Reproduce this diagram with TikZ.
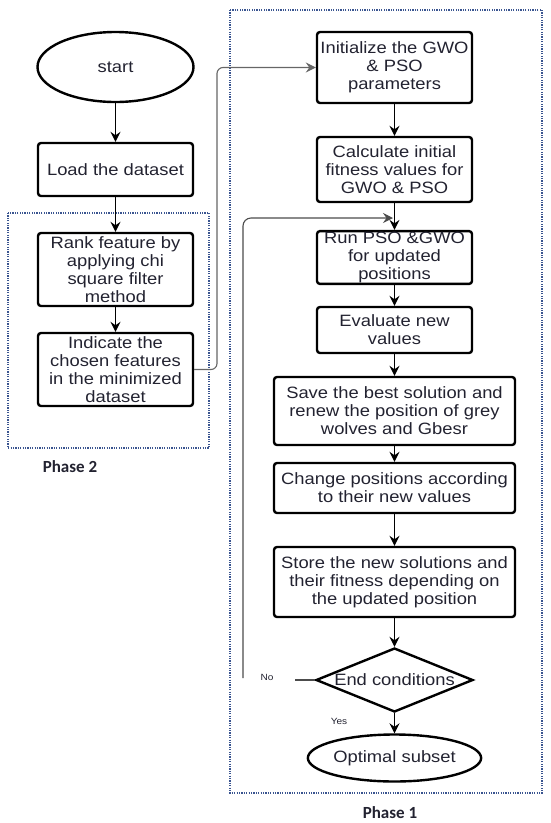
\documentclass[tikz,border=0pt]{standalone}
\usepackage{fontspec}
\setmainfont{Liberation Sans}[FakeStretch=1.12]
\newfontfamily\phasefont{Carlito}
\usetikzlibrary{shapes.geometric,arrows.meta}
\definecolor{dotblue}{HTML}{3A5590}
\definecolor{txt}{HTML}{222230}
\tikzset{
  box/.style={draw=black,line width=2.4pt,rounded corners=3pt,minimum width=155pt,align=center,inner sep=1pt,text=txt,font=\fontsize{16.4}{18}\selectfont},
  wbox/.style={box,minimum width=241pt},
  oval/.style={draw=black,line width=2.4pt,ellipse,inner sep=0pt,text=txt,font=\fontsize{16.4}{18}\selectfont},
  dia/.style={draw=black,line width=2.4pt,diamond,aspect=2.45,inner sep=0pt,minimum width=157pt,minimum height=64pt,text=txt,font=\fontsize{16.4}{18}\selectfont},
  arr/.style={line width=1.4pt,-{Stealth[length=10pt,width=10pt,inset=3.5pt]}},
  phase/.style={draw=dotblue,line width=1.6pt,dash pattern=on 1.2pt off 1.2pt},
  plabel/.style={font=\phasefont\bfseries\fontsize{17}{18}\selectfont,text=txt},
  small/.style={font=\fontsize{9}{10}\selectfont,text=txt}
}
\begin{document}
\begin{tikzpicture}[x=1pt,y=-1pt]
\useasboundingbox (0,0) rectangle (550,823);
% phase frames
\draw[phase] (8,213) rectangle (209,448);
\draw[phase] (230,10) rectangle (542,793);
\node[plabel] (p2) at (70,467) {Phase 2};
\node[plabel] (p1) at (390,813) {Phase 1};
% left column
\node[oval,minimum width=156pt,minimum height=70pt] (start) at (115.5,67) {start};
\node[box,minimum height=53pt] (load) at (115.5,169.5) {Load the dataset};
\node[box,minimum height=73pt] (rank) at (115.5,269.5) {Rank feature by\\applying chi\\square filter\\method};
\node[box,minimum height=73pt] (ind) at (115.5,369.5) {Indicate the\\chosen features\\in the minimized\\dataset};
% right column
\node[box,minimum height=71pt] (init) at (394.5,67.5) {Initialize the GWO\\\& PSO\\parameters};
\node[box,minimum height=65pt] (calc) at (394.5,169.5) {Calculate initial\\fitness values for\\GWO \& PSO};
\node[box,minimum height=49pt] (run) at (394.5,257.5) {Run PSO \&GWO\\for updated\\positions};
\node[box,minimum height=46pt] (eval) at (394.5,330) {Evaluate new\\values};
\node[wbox,minimum height=68pt] (save) at (394.5,411) {Save the best solution and\\renew the position of grey\\wolves and Gbesr};
\node[wbox,minimum height=50pt] (chg) at (394.5,488) {Change positions according\\to their new values};
\node[wbox,minimum height=70pt] (store) at (394.5,582) {Store the new solutions and\\their fitness depending on\\the updated position};
\node[dia] (end) at (394.5,680) {End conditions};
\node[oval,minimum width=156pt,minimum height=47pt] (opt) at (394.5,758) {Optimal subset};
% arrows
\draw[arr] (start) -- (load);
\draw[arr] (load) -- (rank);
\draw[arr] (rank) -- (ind);
\draw[arr] (init) -- (calc);
\draw[arr] (calc) -- (run);
\draw[arr] (run) -- (eval);
\draw[arr] (eval) -- (save);
\draw[arr] (save) -- (chg);
\draw[arr] (chg) -- (store);
\draw[arr] (store) -- (end);
\draw[arr] (end) -- (opt);
% phase 2 -> phase 1
\coordinate (up) at (217,0);
\draw[arr,draw=gray!80!black,line width=1.1pt,rounded corners=6pt] (ind.east) -| (up |- init.west) -- (init.west);
% loop
\coordinate (lbot) at (243,678);
\coordinate (lin) at (393,218);
\coordinate (stub) at (295,680);
\draw[arr,draw=gray!60!black,line width=1.1pt,rounded corners=8pt] (lbot) |- (lin);
\draw[line width=1.1pt,draw=gray!60!black] (stub) -- (end.west);
\node[small] (no) at (267,677) {No};
\node[small] (yes) at (339,721) {Yes};
\end{tikzpicture}
\end{document}
